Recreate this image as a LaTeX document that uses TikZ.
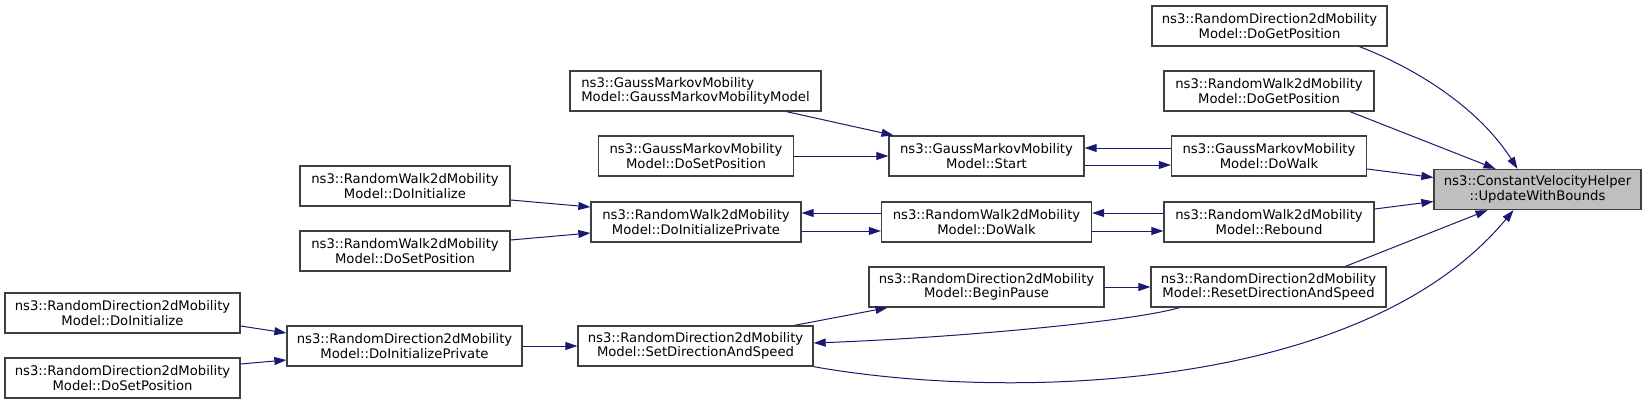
\documentclass[tikz,border=0pt]{standalone}
\usepackage{fontspec}
\setmainfont{DejaVu Sans}
\usepackage{tikz}
\usetikzlibrary{arrows.meta}
\definecolor{navy}{HTML}{191970}
\definecolor{focusgray}{HTML}{BFBFBF}
\definecolor{boxline}{HTML}{404040}
\newcommand{\fnfont}{\fontsize{13.2}{14.3}\selectfont}
\tikzstyle{cell} = [rectangle, minimum height=40pt, inner sep=0pt, draw=boxline, line width=1.3pt, fill=white, align=center, font=\fnfont]
\tikzstyle{rdcell} = [cell, minimum width=235pt]
\tikzstyle{rwcell} = [cell, minimum width=210pt]
\tikzstyle{gmcell} = [cell, minimum width=195pt]
\tikzstyle{ctorcell} = [cell, minimum width=251pt, align=left]
\tikzstyle{focuscell} = [cell, minimum width=207pt, fill=focusgray]
\tikzstyle{call} = [draw=navy, line width=1pt, -{Triangle[length=12pt, width=8pt]}]

\begin{document}
\begin{tikzpicture}[x=1pt, y=-1pt]
\fill[white] (0, 0) rectangle (1647, 404);
\useasboundingbox (0, 0) rectangle (1647, 404);

% the called function
\node[focuscell] (cvh) at (1537.5, 189.5) {ns3::ConstantVelocityHelper\\::UpdateWithBounds};
% direct callers, right column
\node[rdcell] (rdGetPos) at (1269.5, 26) {ns3::RandomDirection2dMobility\\Model::DoGetPosition};
\node[rwcell] (rwGetPos) at (1269, 91) {ns3::RandomWalk2dMobility\\Model::DoGetPosition};
\node[gmcell] (gmWalk) at (1269, 156) {ns3::GaussMarkovMobility\\Model::DoWalk};
\node[rwcell] (rwRebound) at (1269, 222) {ns3::RandomWalk2dMobility\\Model::Rebound};
\node[rdcell] (rdReset) at (1268.5, 287) {ns3::RandomDirection2dMobility\\Model::ResetDirectionAndSpeed};
% second column
\node[gmcell] (gmStart) at (986.5, 156) {ns3::GaussMarkovMobility\\Model::Start};
\node[rwcell] (rwWalk) at (986.5, 222) {ns3::RandomWalk2dMobility\\Model::DoWalk};
\node[rdcell] (rdPause) at (986.5, 287) {ns3::RandomDirection2dMobility\\Model::BeginPause};
% third column
\node[ctorcell] (gmCtor) at (695.5, 91) {ns3::GaussMarkovMobility\\Model::GaussMarkovMobilityModel};
\node[gmcell] (gmSetPos) at (696, 156) {ns3::GaussMarkovMobility\\Model::DoSetPosition};
\node[rwcell] (rwInitPriv) at (696, 222) {ns3::RandomWalk2dMobility\\Model::DoInitializePrivate};
\node[rdcell] (rdSetDir) at (695.5, 346) {ns3::RandomDirection2dMobility\\Model::SetDirectionAndSpeed};
% fourth column
\node[rwcell] (rwInit) at (405, 186) {ns3::RandomWalk2dMobility\\Model::DoInitialize};
\node[rwcell] (rwSetPos) at (405, 251) {ns3::RandomWalk2dMobility\\Model::DoSetPosition};
\node[rdcell] (rdInitPriv) at (404.5, 346) {ns3::RandomDirection2dMobility\\Model::DoInitializePrivate};
% fifth column
\node[rdcell] (rdInit) at (122.5, 313) {ns3::RandomDirection2dMobility\\Model::DoInitialize};
\node[rdcell] (rdSetPos) at (122.5, 378) {ns3::RandomDirection2dMobility\\Model::DoSetPosition};

% CALLS
% into UpdateWithBounds
\draw[call] ([xshift=90pt]rdGetPos.south) .. controls (1420, 70) and (1480, 110) .. ([xshift=-20pt]cvh.north);
\draw[call] ([xshift=81pt]rwGetPos.south) -- ([xshift=-42pt]cvh.north);
\draw[call] ([yshift=-13pt]gmWalk.east) -- ([yshift=12pt]cvh.west);
\draw[call] ([yshift=13pt]rwRebound.east) -- ([yshift=-12pt]cvh.west);
\draw[call] ([xshift=77pt]rdReset.north) -- ([xshift=-50pt]cvh.south);
\draw[call] (rdSetDir.south east) .. controls (1000, 400) and (1360, 395) .. ([xshift=-24pt]cvh.south);
% GaussMarkov chain
\draw[call] ([xshift=91pt]gmCtor.south) -- ([xshift=-93pt]gmStart.north);
\draw[call] (gmSetPos.east) -- (gmStart.west);
\draw[call] ([yshift=8pt]gmWalk.west) -- ([yshift=8pt]gmStart.east);
\draw[call] ([yshift=-9pt]gmStart.east) -- ([yshift=-9pt]gmWalk.west);
% RandomWalk chain
\draw[call] ([yshift=-14pt]rwInit.east) -- ([yshift=15pt]rwInitPriv.west);
\draw[call] ([yshift=11pt]rwSetPos.east) -- ([yshift=-11pt]rwInitPriv.west);
\draw[call] ([yshift=9pt]rwWalk.west) -- ([yshift=9pt]rwInitPriv.east);
\draw[call] ([yshift=-9pt]rwInitPriv.east) -- ([yshift=-9pt]rwWalk.west);
\draw[call] ([yshift=9pt]rwRebound.west) -- ([yshift=9pt]rwWalk.east);
\draw[call] ([yshift=-9pt]rwWalk.east) -- ([yshift=-9pt]rwRebound.west);
% RandomDirection chain
\draw[call] ([yshift=-13pt]rdInit.east) -- ([yshift=13pt]rdInitPriv.west);
\draw[call] ([yshift=14pt]rdSetPos.east) -- ([yshift=-14pt]rdInitPriv.west);
\draw[call] (rdInitPriv.east) -- (rdSetDir.west);
\draw[call] ([xshift=99pt]rdSetDir.north) -- ([xshift=-99pt]rdPause.south);
\draw[call] (rdPause.east) -- (rdReset.west);
\draw[call] ([xshift=-89pt]rdReset.south) .. controls (1130, 322) and (950, 338) .. ([yshift=3pt]rdSetDir.east);
\end{tikzpicture}
\end{document}
